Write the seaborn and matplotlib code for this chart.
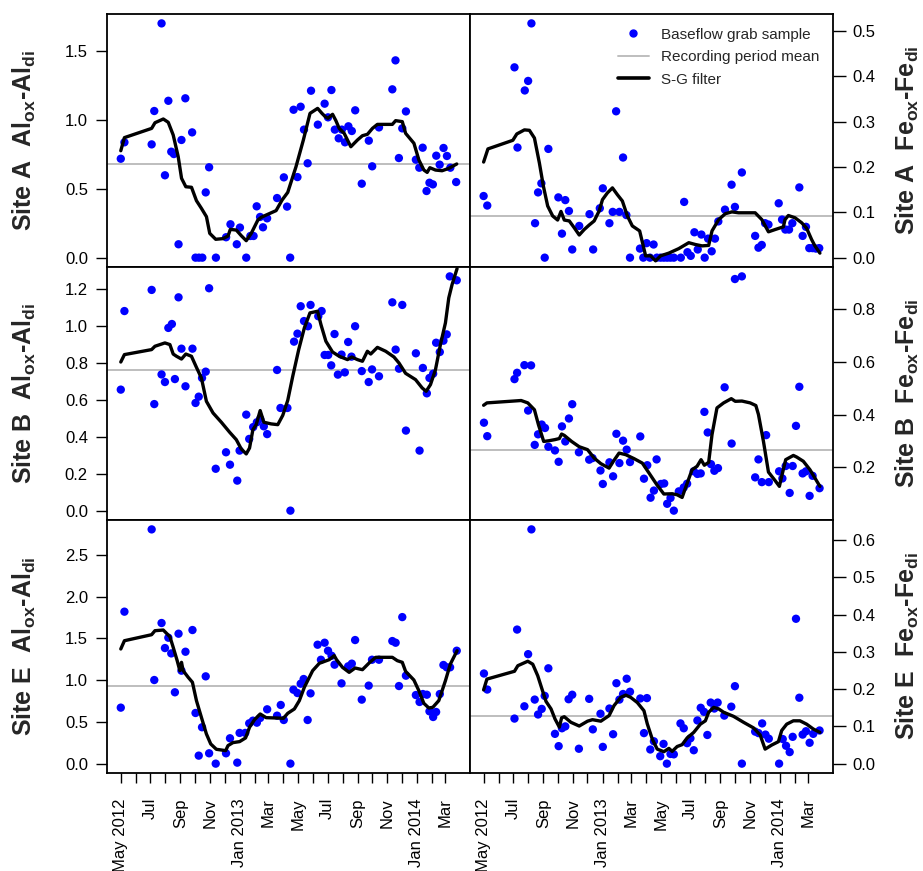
import numpy as np
import pandas as pd
import matplotlib
matplotlib.use("Agg")
import matplotlib.pyplot as plt
from matplotlib.lines import Line2D
import seaborn as sns

# ---------------- data (days since 2012-05-01, values) ----------------
BASE_DATE = "2012-05-01"

a_al_days = [0, 7.5, 63.6, 69, 84, 91, 98, 104, 109.4, 119,
             125, 133, 147, 154, 161, 168, 175, 182, 196, 217,
             226, 239, 245.5, 258.5, 267, 273.6, 280, 287, 293, 301.5,
             322, 336, 342.6, 349, 356, 364, 370.6, 377.5, 385, 392,
             406, 420, 427, 434, 441, 449, 455.5, 462, 469, 476,
             483, 496.5, 511, 518, 532, 559.5, 566, 573, 580, 587.5,
             608, 615, 622, 630, 636, 643, 650, 657, 665, 672,
             679, 691]
a_al_vals = [0.717, 0.836, 0.821, 1.063, 1.698, 0.597, 1.137, 0.768, 0.751, 0.097,
             0.853, 1.155, 0.908, 0, 0, 0, 0.473, 0.655, 0, 0.148,
             0.242, 0.097, 0.218, 0, 0.157, 0.157, 0.372, 0.295, 0.220, 0.285,
             0.432, 0.582, 0.370, 0, 1.072, 0.584, 1.094, 0.928, 0.684, 1.210,
             0.964, 1.116, 1.017, 1.215, 0.928, 0.865, 0.928, 0.836, 0.952, 0.918,
             1.068, 0.536, 0.848, 0.662, 0.944, 1.220, 1.430, 0.722, 0.937, 1.060,
             0.710, 0.652, 0.797, 0.483, 0.543, 0.531, 0.739, 0.674, 0.795, 0.737,
             0.652, 0.548]
a_al_sg_days = [0, 7.5, 63.6, 70.5, 87.6, 97.8, 108, 118.3, 125.2, 134,
                145.7, 155.9, 166.2, 176.5, 183.3, 195.6, 210.7, 221, 225.7, 238,
                248.3, 258.5, 268.8, 282.5, 289.3, 299.6, 320, 332.4, 344, 361,
                376.2, 389.9, 405.6, 414.5, 421.3, 426.8, 436.4, 443.2, 450, 460.3,
                474, 487.7, 497.9, 508.2, 518.5, 528.7, 559.5, 566.3, 580, 586.9,
                604, 614.2, 624.5, 631.3, 636.8, 648.4, 662, 675.8, 692.2]
a_al_sg_vals = [0.775, 0.870, 0.937, 0.978, 1.005, 0.981, 0.889, 0.732, 0.575, 0.514,
                0.510, 0.413, 0.357, 0.297, 0.176, 0.133, 0.138, 0.157, 0.205, 0.200,
                0.159, 0.123, 0.176, 0.273, 0.292, 0.309, 0.341, 0.418, 0.473, 0.659,
                0.853, 1.046, 1.082, 1.046, 1.022, 1.010, 1.039, 0.993, 0.937, 0.901,
                0.804, 0.853, 0.884, 0.894, 0.937, 0.966, 0.966, 0.993, 0.986, 0.901,
                0.829, 0.708, 0.635, 0.618, 0.652, 0.635, 0.630, 0.647, 0.679]
a_al_mean = 0.679

a_fe_days = [0, 7.5, 63.6, 69.8, 84.8, 91.7, 98.5, 106, 112.2, 119,
             125.9, 133.4, 154, 161.4, 168.3, 175.8, 182.6, 197, 218.2, 225.7,
             239.4, 245.6, 259.2, 266, 273, 279.8, 287.3, 294.1, 301.6, 322.2,
             329, 335.8, 342.7, 350.2, 357, 364.6, 371.4, 378.2, 385, 392,
             406.3, 413.2, 420, 426.8, 434.3, 441.2, 448.7, 455.5, 462.4, 469.9,
             476.7, 483.6, 497.3, 510.9, 517.8, 532.1, 559.5, 566.3, 573.1, 580,
             586.9, 608, 614.9, 621.7, 629.3, 636.1, 650.5, 657.3, 664.2, 671,
             677.8, 684.7, 691.5]
a_fe_vals = [0.136, 0.115, 0.420, 0.243, 0.369, 0.390, 0.517, 0.076, 0.144, 0.164,
             0.0, 0.240, 0.133, 0.053, 0.127, 0.103, 0.018, 0.070, 0.096, 0.018,
             0.109, 0.153, 0.076, 0.101, 0.323, 0.101, 0.221, 0.094, 0.0, 0.020,
             0, 0.032, 0, 0.029, 0, 0, 0, 0, 0, 0,
             0, 0.123, 0.012, 0.004, 0.056, 0.018, 0.051, 0, 0.042, 0.014,
             0.042, 0.080, 0.106, 0.161, 0.112, 0.188, 0.048, 0.022, 0.028, 0.076,
             0.073, 0.120, 0.084, 0.062, 0.062, 0.076, 0.155, 0.048, 0.068, 0.021,
             0.021, 0.020, 0.021]
a_fe_sg_days = [0, 8.9, 60.2, 68.4, 84.1, 94.4, 104.7, 114.9, 123.1, 132,
                142.3, 152.5, 159.4, 166.2, 176.5, 186.7, 197, 207.2, 217.5, 227.8,
                238, 244.9, 255.1, 265.4, 275.6, 285.9, 296.2, 306.4, 321.5, 333.8,
                344, 354.3, 364.6, 381.7, 402.2, 422.7, 436.4, 450.1, 463.7, 470.6,
                484.3, 498, 511.6, 525.3, 559.5, 573.2, 586.9, 600.5, 617.6, 621,
                627.9, 641.6, 655.3, 665.5, 675.8, 682.6, 692.9]
a_fe_sg_vals = [0.211, 0.240, 0.259, 0.273, 0.282, 0.281, 0.264, 0.209, 0.158, 0.114,
                0.092, 0.083, 0.102, 0.083, 0.081, 0.066, 0.050, 0.062, 0.072, 0.081,
                0.103, 0.128, 0.143, 0.154, 0.139, 0.125, 0.092, 0.070, 0.059, 0.004,
                0.004, -0.007, 0.004, 0.010, 0.020, 0.033, 0.029, 0.026, 0.027, 0.059,
                0.084, 0.097, 0.101, 0.099, 0.099, 0.084, 0.057, 0.062, 0.068, 0.084,
                0.093, 0.088, 0.077, 0.065, 0.040, 0.026, 0.010]
a_fe_mean = 0.092

b_al_days = [0, 7.5, 63.6, 69, 84, 91, 98, 105.3, 111.5, 119,
             125, 133.3, 147.7, 154, 160.6, 167.4, 175, 182, 195.6, 216.8,
             225, 240, 244.8, 258.5, 264.6, 272.8, 280.4, 287.2, 294.7, 301.6,
             322, 329, 343.3, 349.5, 357, 364, 370.7, 377.5, 385.7, 391,
             406.9, 413.8, 420, 427.4, 433.6, 440.4, 447.3, 454.8, 461.6, 468.5,
             475.3, 482.8, 496.5, 510.8, 517.7, 532, 559.5, 566.3, 573.2, 580,
             587.5, 608, 615.6, 622.4, 630.6, 636, 643.6, 649.7, 657.3, 664.8,
             671.6, 677.8, 692.2]
b_al_vals = [0.655, 1.079, 1.193, 0.577, 0.737, 0.696, 0.988, 1.009, 0.712, 1.153,
             0.876, 0.673, 0.876, 0.583, 0.617, 0.718, 0.752, 1.202, 0.228, 0.317,
             0.250, 0.164, 0.326, 0.520, 0.389, 0.453, 0.479, 0.497, 0.457, 0.415,
             0.761, 0.556, 0.556, 0.002, 0.914, 0.957, 1.105, 1.025, 0.997, 1.112,
             1.051, 1.079, 0.842, 0.842, 0.786, 0.955, 0.736, 0.844, 0.748, 0.912,
             0.833, 0.997, 0.755, 0.696, 0.764, 0.727, 1.126, 0.871, 0.768, 1.112,
             0.434, 0.851, 0.326, 0.772, 0.635, 0.718, 0.741, 0.908, 0.858, 0.919,
             0.953, 1.266, 1.245]
b_al_sg_days = [0, 7.5, 63.5, 70.4, 90.9, 101.2, 108, 114.8, 125.1, 134,
                145.6, 155.9, 166.1, 176.4, 190.1, 207.2, 224.3, 238, 248.2, 258.5,
                265.3, 272.2, 279, 287.2, 294.8, 309.8, 323.5, 333.7, 344, 354.3,
                366.6, 378.2, 389.8, 405.5, 412.4, 422.6, 436.3, 450, 467.1, 476,
                487.6, 497.9, 508.1, 515, 528.7, 545.8, 562.9, 573.1, 586.8, 607.3,
                621, 629.2, 638.1, 648.4, 658.6, 668.9, 675.8, 682.6, 692.9]
b_al_sg_vals = [0.804, 0.844, 0.871, 0.889, 0.907, 0.898, 0.847, 0.835, 0.820, 0.847,
                0.835, 0.775, 0.718, 0.592, 0.529, 0.479, 0.425, 0.385, 0.335, 0.308,
                0.340, 0.439, 0.466, 0.542, 0.479, 0.470, 0.466, 0.516, 0.597, 0.727,
                0.871, 0.988, 1.069, 1.078, 1.006, 0.916, 0.858, 0.835, 0.817, 0.831,
                0.817, 0.808, 0.862, 0.847, 0.883, 0.862, 0.831, 0.799, 0.743, 0.709,
                0.664, 0.646, 0.682, 0.763, 0.898, 1.015, 1.150, 1.222, 1.308]
b_al_mean = 0.759

b_fe_days = [0.7, 7.5, 63.6, 69, 84, 91.7, 97.8, 105.3, 112.2, 119.7,
             126.5, 133.4, 147, 154.6, 161.4, 168.3, 175.8, 182.6, 196.3, 217.5,
             224.3, 240.8, 245.6, 259.2, 266.8, 273.6, 279.8, 287.3, 294.8, 301.6,
             322.8, 330.4, 337.2, 344, 350.9, 356.4, 365.3, 372.1, 378.2, 385.1,
             391.9, 402.2, 412.4, 419.3, 433, 440.5, 447.3, 454.9, 461.7, 468.5,
             475.4, 482.9, 496.6, 511, 517.8, 532.1, 559.5, 566.3, 573.2, 582.1,
             587.6, 608.8, 615.6, 622.4, 630.6, 636.8, 643.6, 650.5, 657.3, 664.2,
             671.7, 677.8, 692.2]
b_fe_vals = [0.369, 0.318, 0.534, 0.558, 0.587, 0.415, 0.586, 0.285, 0.325, 0.362,
             0.349, 0.278, 0.264, 0.221, 0.355, 0.298, 0.385, 0.439, 0.257, 0.229,
             0.235, 0.188, 0.137, 0.219, 0.166, 0.327, 0.216, 0.301, 0.267, 0.220,
             0.317, 0.157, 0.208, 0.085, 0.112, 0.230, 0.137, 0.139, 0.062, 0.084,
             0.036, 0.109, 0.124, 0.138, 0.185, 0.175, 0.177, 0.410, 0.332, 0.212,
             0.187, 0.197, 0.503, 0.290, 0.913, 0.923, 0.162, 0.230, 0.144, 0.322,
             0.144, 0.185, 0.158, 0.205, 0.103, 0.205, 0.357, 0.505, 0.177, 0.185,
             0.092, 0.168, 0.121]
b_fe_sg_days = [0, 6.8, 77.3, 91, 104.7, 112.9, 123.8, 135.4, 147.1, 156,
                160.7, 166.2, 181.3, 197, 214.1, 227.8, 241.5, 258.5, 267.4, 279.1,
                292.7, 309.9, 327, 340.6, 357.7, 371.4, 388.5, 398.8, 409, 415.9,
                429.5, 439.8, 448, 454.8, 463.7, 470.6, 480.8, 494.5, 510.3, 518.5,
                532.2, 549.2, 560.9, 566.3, 576.6, 586.9, 600.5, 609.4, 614.2, 622.4,
                638.2, 645, 658.7, 672.4, 692.9]
b_fe_sg_vals = [0.435, 0.444, 0.453, 0.444, 0.418, 0.362, 0.298, 0.301, 0.305, 0.309,
                0.326, 0.321, 0.298, 0.278, 0.267, 0.235, 0.214, 0.197, 0.223, 0.254,
                0.248, 0.233, 0.216, 0.179, 0.132, 0.099, 0.100, 0.096, 0.086, 0.122,
                0.191, 0.204, 0.229, 0.208, 0.219, 0.324, 0.425, 0.444, 0.460, 0.450,
                0.451, 0.444, 0.434, 0.400, 0.298, 0.182, 0.150, 0.128, 0.166, 0.229,
                0.245, 0.239, 0.223, 0.191, 0.128]
b_fe_mean = 0.265

e_al_days = [0, 7.5, 63.6, 69, 84, 91, 98, 104, 111.5, 119,
             125, 133.3, 147.7, 154, 160.6, 167.4, 175, 182, 195.6, 216.8,
             225, 240, 244.8, 256.4, 264.6, 272.2, 280.4, 287.2, 301.6, 322,
             329.6, 335.8, 349.5, 355.7, 364, 370.7, 376.8, 385, 391, 405.5,
             412.4, 420, 427, 434.3, 440.5, 454.8, 468.5, 476, 482.8, 496.5,
             510.8, 517.6, 532, 559.5, 566.3, 573.2, 580, 587.5, 608, 615.6,
             622.4, 630.6, 636, 643.6, 649.7, 657.3, 664.8, 671.6, 678.5, 692.2]
e_al_vals = [0.671, 1.821, 2.807, 1.002, 1.685, 1.385, 1.509, 1.321, 0.855, 1.557,
             1.114, 1.341, 1.601, 0.607, 0.096, 0.436, 1.046, 0.124, 0.0, 0.124,
             0.304, 0.012, 0.368, 0.368, 0.483, 0.515, 0.491, 0.547, 0.651, 0.575,
             0.703, 0.523, 0.0, 0.886, 0.846, 0.958, 1.014, 0.523, 0.842, 1.425,
             1.245, 1.449, 1.353, 1.293, 1.186, 0.962, 1.166, 1.198, 1.481, 0.767,
             0.935, 1.245, 1.245, 1.469, 1.449, 0.930, 1.756, 1.054, 0.822, 0.739,
             0.834, 0.826, 0.627, 0.559, 0.619, 0.834, 1.182, 1.154, 1.154, 1.353]
e_al_sg_days = [0, 7.5, 63.5, 70.4, 87.5, 101.2, 108, 116.2, 121.7, 125.1,
                128.5, 138.8, 147.6, 155.9, 166.1, 176.4, 185.3, 196.9, 216.1, 220.9,
                231.1, 244.8, 257.1, 265.3, 275.6, 287.2, 299.5, 320, 335.1, 344,
                357.6, 367.9, 378.2, 395.3, 409, 429.5, 439.8, 444.5, 456.8, 470.5,
                482.8, 497.9, 513, 525.3, 559.5, 569.7, 580, 586.8, 603.9, 614.1,
                624.4, 634.7, 642.9, 655.2, 668.9, 679.1, 692.9]
e_al_sg_vals = [1.374, 1.473, 1.545, 1.593, 1.601, 1.521, 1.394, 1.234, 1.114, 1.214,
                1.114, 1.035, 0.975, 0.755, 0.555, 0.356, 0.236, 0.172, 0.156, 0.216,
                0.252, 0.264, 0.308, 0.436, 0.527, 0.595, 0.551, 0.547, 0.543, 0.603,
                0.655, 0.755, 0.915, 1.114, 1.202, 1.246, 1.294, 1.246, 1.154, 1.094,
                1.146, 1.126, 1.214, 1.274, 1.274, 1.234, 1.214, 1.106, 1.002, 0.875,
                0.723, 0.667, 0.675, 0.755, 0.994, 1.194, 1.353]
e_al_mean = 0.934

e_fe_days = [0.7, 7.5, 63.6, 69, 84, 91.7, 98.5, 105.3, 112.2, 119.7,
             125.9, 133.4, 147, 154.6, 161.4, 168.3, 175.1, 182.6, 196.3, 217.5,
             225, 240.8, 245.6, 259.2, 266.8, 273.6, 279.8, 287.3, 294.8, 301.6,
             322.8, 330.4, 336.5, 343.4, 350.9, 363.9, 370.7, 377.6, 385.1, 391.9,
             405.6, 412.4, 419.3, 426.1, 433, 440.5, 447.3, 454.2, 461, 467.9,
             475.4, 482.2, 495.9, 510.3, 517.8, 532.1, 559.5, 566.3, 573.9, 580.7,
             587.6, 608.8, 616.3, 623.1, 630.6, 636.8, 643.6, 650.5, 657.3, 664.2,
             671.7, 679.2, 692.2]
e_fe_vals = [0.242, 0.199, 0.121, 0.360, 0.154, 0.294, 0.629, 0.172, 0.132, 0.147,
             0.182, 0.256, 0.080, 0.047, 0.095, 0.100, 0.173, 0.185, 0.040, 0.174,
             0.092, 0.134, 0.045, 0.148, 0.079, 0.216, 0.172, 0.187, 0.228, 0.193,
             0.175, 0.082, 0.176, 0.038, 0.060, 0.020, 0.053, 0.0, 0.026, 0.025,
             0.108, 0.095, 0.055, 0.068, 0.036, 0.116, 0.150, 0.139, 0.077, 0.164,
             0.148, 0.164, 0.129, 0.153, 0.208, 0.0, 0.086, 0.082, 0.108, 0.078,
             0.067, 0.0, 0.066, 0.048, 0.031, 0.072, 0.389, 0.177, 0.078, 0.087,
             0.056, 0.080, 0.089]
e_fe_sg_days = [0, 6.8, 63.6, 70.5, 91, 101.2, 111.5, 121.8, 128.6, 138.9,
                147.1, 156, 160.7, 166.2, 179.9, 197, 214.1, 224.3, 241.5, 258.5,
                268.8, 282.5, 292.7, 303, 316.7, 330.4, 337.2, 347.5, 357.7, 371.4,
                381.7, 388.5, 398.8, 409, 419.3, 433, 446.6, 456.9, 463.7, 474,
                484.3, 494.5, 515, 535.6, 556.1, 569.8, 580, 593.7, 607.4, 614.2,
                624.5, 638.2, 651.8, 665.5, 679.2, 692.9]
e_fe_sg_vals = [0.198, 0.227, 0.248, 0.263, 0.275, 0.267, 0.236, 0.194, 0.167, 0.147,
                0.120, 0.098, 0.123, 0.126, 0.111, 0.101, 0.114, 0.118, 0.114, 0.129,
                0.156, 0.178, 0.184, 0.178, 0.164, 0.142, 0.107, 0.066, 0.039, 0.032,
                0.041, 0.033, 0.046, 0.051, 0.069, 0.084, 0.106, 0.115, 0.138, 0.151,
                0.147, 0.138, 0.127, 0.111, 0.096, 0.077, 0.039, 0.050, 0.059, 0.089,
                0.106, 0.115, 0.115, 0.106, 0.093, 0.084]
e_fe_mean = 0.127

site_names = ["Site A", "Site B", "Site E"]
tick_months = ["2012-05", "2012-06", "2012-07", "2012-08", "2012-09", "2012-10",
               "2012-11", "2012-12", "2013-01", "2013-02", "2013-03", "2013-04",
               "2013-05", "2013-06", "2013-07", "2013-08", "2013-09", "2013-10",
               "2013-11", "2013-12", "2014-01", "2014-02", "2014-03"]
tick_labels = ["May 2012", "", "Jul", "", "Sep", "", "Nov", "", "Jan 2013", "",
               "Mar", "", "May", "", "Jul", "", "Sep", "", "Nov", "", "Jan 2014",
               "", "Mar"]
yticks_al = [[0, 0.5, 1.0, 1.5], [0, 0.2, 0.4, 0.6, 0.8, 1.0, 1.2], [0, 0.5, 1.0, 1.5, 2.0, 2.5]]
yticks_fe = [[0, 0.1, 0.2, 0.3, 0.4, 0.5], [0.2, 0.4, 0.6, 0.8], [0, 0.1, 0.2, 0.3, 0.4, 0.5, 0.6]]
legend_labels = ["Baseflow grab sample", "Recording period mean", "S-G filter"]

# ---------------- style ----------------
sns.set_theme(style="ticks")
plt.rcParams["font.family"] = ["Liberation Sans", "DejaVu Sans"]
plt.rcParams["mathtext.fontset"] = "custom"
plt.rcParams["mathtext.rm"] = "Liberation Sans"
plt.rcParams["mathtext.bf"] = "Liberation Sans:bold"
plt.rcParams["mathtext.it"] = "Liberation Sans:italic"

BLUE = "#0000FF"
GREY = "#BEBEBE"

base = pd.Timestamp(BASE_DATE)


def to_dates(days):
    return base + pd.to_timedelta(np.asarray(days, dtype=float), unit="D")


fig, axes = plt.subplots(3, 2, figsize=(9.23, 8.71), dpi=100, sharex=True,
                         gridspec_kw=dict(hspace=0, wspace=0))
fig.subplots_adjust(left=0.1163, right=0.9025, top=0.9839, bottom=0.1125)

panels = [
    [(a_al_days, a_al_vals, a_al_sg_days, a_al_sg_vals, a_al_mean),
     (a_fe_days, a_fe_vals, a_fe_sg_days, a_fe_sg_vals, a_fe_mean)],
    [(b_al_days, b_al_vals, b_al_sg_days, b_al_sg_vals, b_al_mean),
     (b_fe_days, b_fe_vals, b_fe_sg_days, b_fe_sg_vals, b_fe_mean)],
    [(e_al_days, e_al_vals, e_al_sg_days, e_al_sg_vals, e_al_mean),
     (e_fe_days, e_fe_vals, e_fe_sg_days, e_fe_sg_vals, e_fe_mean)],
]

all_days = np.concatenate([np.asarray(p[0], float) for row in panels for p in row])
dmin, dmax = all_days.min(), all_days.max()
pad = 0.04 * (dmax - dmin)
xlim = (base + pd.Timedelta(days=dmin - pad), base + pd.Timedelta(days=dmax + pad))

LABEL_SIZE = 18

for r in range(3):
    for c in range(2):
        ax = axes[r, c]
        days, vals, sgd, sgv, mean = panels[r][c]
        ax.axhline(mean, color=GREY, lw=1.4, zorder=1)
        sns.scatterplot(x=to_dates(days), y=vals, ax=ax, color=BLUE, s=36,
                        linewidth=0, edgecolor="none", legend=False, zorder=2)
        sns.lineplot(x=to_dates(sgd), y=sgv, ax=ax, color="black", lw=2.4,
                     sort=False, estimator=None, legend=False, zorder=3)
        v = np.asarray(vals, float)
        rng = v.max() - v.min()
        ax.set_ylim(v.min() - 0.04 * rng, v.max() + 0.04 * rng)
        ax.set_xlim(*xlim)
        for sp in ax.spines.values():
            sp.set_visible(True)
            sp.set_color("black")
            sp.set_linewidth(1.3)
        if c == 0:
            ax.set_yticks(yticks_al[r])
            ax.set_yticklabels([f"{t:.1f}" for t in yticks_al[r]])
            ax.tick_params(axis="y", left=True, right=False, direction="out",
                           length=8, width=1, labelsize=12, pad=6, colors="black")
            ax.set_ylabel(site_names[r] + r"  $\mathbf{Al_{ox}}$-$\mathbf{Al_{di}}$",
                          fontsize=LABEL_SIZE, fontweight="bold")
            ax.yaxis.set_label_coords(-0.19, 0.5)
        else:
            ax.yaxis.tick_right()
            ax.yaxis.set_label_position("right")
            ax.set_yticks(yticks_fe[r])
            ax.set_yticklabels([f"{t:.1f}" for t in yticks_fe[r]])
            ax.tick_params(axis="y", left=False, right=True, direction="out",
                           length=9, width=1, labelsize=12, pad=5, colors="black")
            ax.set_ylabel(site_names[r] + r"  $\mathbf{Fe_{ox}}$-$\mathbf{Fe_{di}}$",
                          fontsize=LABEL_SIZE, fontweight="bold", rotation=90)
            ax.yaxis.set_label_coords(1.168, 0.5)
        ax.set_xlabel("")
        if r == 2:
            ticks = pd.to_datetime([m + "-01" for m in tick_months])
            ax.set_xticks(ticks)
            ax.set_xticklabels(tick_labels, rotation=90, fontsize=12)
            ax.tick_params(axis="x", bottom=True, direction="out", length=7,
                           width=1, pad=11, colors="black")
        else:
            ax.tick_params(axis="x", bottom=False, labelbottom=False)

handles = [
    Line2D([], [], marker="o", color=BLUE, linestyle="none", markersize=5),
    Line2D([], [], color=GREY, lw=1.4),
    Line2D([], [], color="black", lw=2.6),
]
axes[0, 1].legend(handles, legend_labels, loc="upper right", frameon=False,
                  fontsize=11, handlelength=2.0, handletextpad=0.8,
                  labelspacing=0.55, borderaxespad=0.5)

fig.savefig("out.png", dpi=100)
